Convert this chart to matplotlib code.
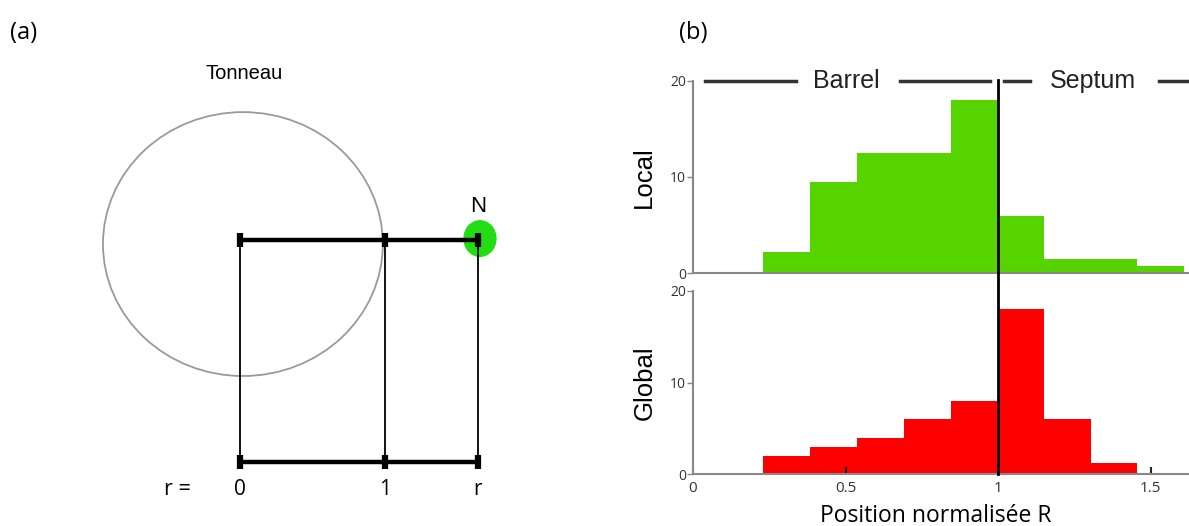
import numpy as np
import matplotlib.pyplot as plt
from matplotlib.patches import Ellipse
from matplotlib.transforms import blended_transform_factory

# histogram data (normalised position R)
bin_edges = [0.228, 0.382, 0.537, 0.691, 0.846, 1.0, 1.152, 1.305, 1.456, 1.61]
local_counts = [2.2, 9.5, 12.5, 12.5, 18.0, 6.0, 1.5, 1.5, 0.8]
global_counts = [2.0, 3.0, 4.0, 6.0, 8.0, 18.0, 6.0, 1.2, 0.0]
x_ticks = [0, 0.5, 1, 1.5]
x_tick_labels = ["0", "0.5", "1", "1.5"]
y_ticks = [0, 10, 20]

# schematic positions (in units of barrel radius)
r_positions = [0, 1, 1.64]
r_labels = ["0", "1", "r"]

W, H = 1189, 526
fig = plt.figure(figsize=(W / 100, H / 100), dpi=100)

myriad = ["Open Sans", "DejaVu Sans"]
helv = ["Liberation Sans", "DejaVu Sans"]

# ---------- (a) schematic ----------
ax0 = fig.add_axes([0, 0, 600 / W, 1])
ax0.set_xlim(-240 / 145, 360 / 145)
ax0.set_ylim((240 - 526) / 145, 240 / 145)
ax0.axis("off")

# barrel outline (slightly squashed like the original drawing)
ax0.add_patch(Ellipse((0.02, -0.028), 1.93, 1.82, fill=False, ec="#9a9a9a", lw=1.3))
y_top, y_bot = 0, -1.53
for yy in (y_top, y_bot):
    ax0.plot([r_positions[0], r_positions[-1]], [yy, yy], color="black", lw=3.2,
             solid_capstyle="butt")
    for xx in r_positions:
        ax0.plot([xx, xx], [yy - 0.05, yy + 0.05], color="black", lw=4.5,
                 solid_capstyle="butt")
for xx in r_positions:
    ax0.plot([xx, xx], [y_top, y_bot], color="black", lw=1.3)
ax0.add_patch(Ellipse((r_positions[-1] + 0.015, 0.01), 0.22, 0.245, color="#22dd11", zorder=1))
ax0.text(r_positions[-1], 0.19, "N", ha="center", va="baseline", fontsize=16, family=helv)
ax0.text(0.3 - 0.27, 1.15, "Tonneau", ha="center", va="center", fontsize=14.5, family=helv)
ax0.text(-0.43, -1.72, "r =", ha="center", va="center", fontsize=15.5, family=myriad)
for xx, lab in zip(r_positions, r_labels):
    ax0.text(xx, -1.72, lab, ha="center", va="center", fontsize=15, family=myriad)

fig.text(10 / W, 1 - 33 / H, "(a)", fontsize=17, va="center", family=myriad)
fig.text(679 / W, 1 - 33 / H, "(b)", fontsize=17, va="center", family=myriad)

# ---------- (b) histograms ----------
left = 693 / W
width = 1 - left
ax1 = fig.add_axes([left, 1 - 273.3 / H, width, (273.3 - 80.7) / H])
ax2 = fig.add_axes([left, 1 - 474.3 / H, width, (474.3 - 290.7) / H])

widths = np.diff(bin_edges)
ax1.bar(bin_edges[:-1], local_counts, width=widths, align="edge", color="#55d400", lw=0)
ax2.bar(bin_edges[:-1], global_counts, width=widths, align="edge", color="#ff0000", lw=0)

for ax in (ax1, ax2):
    ax.set_xlim(0, 1.626)
    ax.set_ylim(0, 20)
    ax.set_yticks(y_ticks)
    ax.set_yticklabels([str(t) for t in y_ticks], fontsize=10, color="#333333", family=myriad)
    ax.tick_params(axis="y", length=4, width=1, color="#888888", pad=1)
    for s in ("top", "right"):
        ax.spines[s].set_visible(False)
    for s in ("left", "bottom"):
        ax.spines[s].set_color("#888888")
        ax.spines[s].set_linewidth(1.5)

ax1.set_xticks([])
ax2.set_xticks(x_ticks)
ax2.set_xticklabels(x_tick_labels, fontsize=11, color="#333333", family=myriad)
ax2.tick_params(axis="x", direction="in", length=5, width=1.5, color="#222222", pad=5)
ax2.set_xlabel("Position normalisée R", fontsize=16.5, family=myriad)
ax2.xaxis.set_label_coords(0.489, -0.16)

ax1.set_ylabel("Local", fontsize=18.5, family=helv)
ax2.set_ylabel("Global", fontsize=18.5, family=helv)
ax1.yaxis.set_label_coords(-0.074, 0.5)
ax2.yaxis.set_label_coords(-0.074, 0.5)

# header: Barrel | Septum
for x0, x1 in [(0.039, 0.337), (0.677, 0.975), (1.021, 1.106), (1.527, 1.63)]:
    ax1.plot([x0, x1], [20, 20], color="#333333", lw=2.5, clip_on=False)
ax1.text(0.504, 20, "Barrel", ha="center", va="center", fontsize=18, family=helv, color="#222222")
ax1.text(1.31, 20, "Septum", ha="center", va="center", fontsize=18, family=helv, color="#222222")

# barrel boundary at R = 1 across both panels
tr = blended_transform_factory(ax2.transData, fig.transFigure)
ax2.plot([1, 1], [1 - 474.3 / H, 1 - 80 / H], color="black", lw=2, transform=tr,
         clip_on=False, zorder=5)

fig.savefig("out.png", dpi=100)
